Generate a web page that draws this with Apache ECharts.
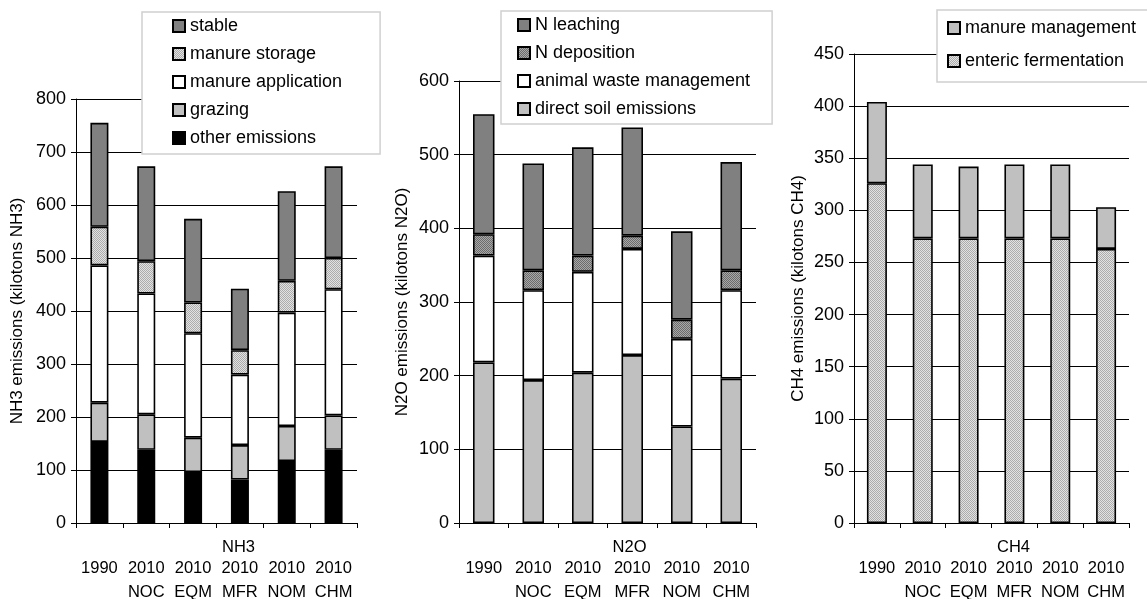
<!DOCTYPE html>
<html>
<head>
<meta charset="utf-8">
<script src="https://cdn.jsdelivr.net/npm/echarts@6/dist/echarts.min.js"></script>
<style>
  html, body { margin: 0; padding: 0; background: #fff; }
  #chart { width: 1147px; height: 599px; }
</style>
</head>
<body>
<div id="chart"></div>
<script>
// Scenario categories shared by all three panels
const categories = ['1990', '2010\nNOC', '2010\nEQM', '2010\nMFR', '2010\nNOM', '2010\nCHM'];

// NH3 emissions (kilotons NH3), per source
const nh3Other       = [153, 138, 96, 82, 117, 138];
const nh3Grazing     = [74, 67, 65, 65, 66, 65];
const nh3Application = [259, 228, 197, 133, 214, 238];
const nh3Storage     = [73, 61, 58, 46, 60, 59];
const nh3Stable      = [196, 179, 158, 116, 169, 173];

// N2O emissions (kilotons N2O), per source
const n2oDirectSoil  = [218, 194, 204, 228, 131, 196];
const n2oAnimalWaste = [145, 122, 137, 144, 119, 120];
const n2oDeposition  = [29, 27, 22, 18, 26, 27];
const n2oLeaching    = [163, 145, 147, 147, 120, 147];

// CH4 emissions (kilotons CH4), per source
const ch4Enteric = [326, 273, 273, 273, 273, 263];
const ch4Manure  = [78, 71, 69, 71, 71, 40];

// Axis titles
const panelNames = ['NH3', 'N2O', 'CH4'];
const yTitles = ['NH3 emissions (kilotons NH3)', 'N2O emissions (kilotons N2O)', 'CH4 emissions (kilotons CH4)'];
const yMax = [800, 600, 450];
const yStep = [100, 100, 50];

const FONT = "'Liberation Sans', Arial, sans-serif";

// Fine-grained hatch fills (2x2 checker)
function hatch(light, dark) {
  const c = document.createElement('canvas');
  c.width = 2; c.height = 2;
  const g = c.getContext('2d');
  g.fillStyle = light; g.fillRect(0, 0, 2, 2);
  g.fillStyle = dark;
  g.fillRect(0, 0, 1, 1);
  g.fillRect(1, 1, 1, 1);
  return { image: c, repeat: 'repeat' };
}
const lightHatch = hatch('#e2e2e2', '#acacac');
const darkHatch = hatch('#a8a8a8', '#6c6c6c');

const grids = [
  { left: 76, top: 99, width: 281, height: 424 },
  { left: 459, top: 81, width: 297, height: 442 },
  { left: 854, top: 54, width: 275, height: 469 }
].map(g => Object.assign(g, { containLabel: false, outerBoundsMode: 'none' }));
const barWidths = [18, 21.5, 20];
const nameGaps = [50, 48, 47];

const xAxes = grids.map((g, i) => ({
  type: 'category',
  gridIndex: i,
  data: categories,
  axisLine: { lineStyle: { color: '#000', width: 1 } },
  axisTick: { show: true, length: 5, lineStyle: { color: '#000' } },
  axisLabel: { fontFamily: FONT, fontSize: 16.5, color: '#000', lineHeight: 24, margin: 33, interval: 0 }
}));

const yAxes = grids.map((g, i) => ({
  type: 'value',
  gridIndex: i,
  min: 0,
  max: yMax[i],
  interval: yStep[i],
  name: yTitles[i],
  nameLocation: 'middle',
  nameRotate: 90,
  nameGap: nameGaps[i],
  nameTextStyle: { fontFamily: FONT, fontSize: 17, color: '#000' },
  axisLine: { show: true, lineStyle: { color: '#000', width: 1 } },
  axisTick: { show: true, length: 5, lineStyle: { color: '#000' } },
  axisLabel: { fontFamily: FONT, fontSize: 18, color: '#000', margin: 10 },
  splitLine: { show: true, lineStyle: { color: '#000', width: 1 } }
}));

function bar(name, data, panel, color) {
  return {
    name: name,
    type: 'bar',
    stack: 'panel' + panel,
    xAxisIndex: panel,
    yAxisIndex: panel,
    data: data,
    barWidth: barWidths[panel],
    itemStyle: { color: color, borderColor: '#000', borderWidth: 1.6 },
    emphasis: { disabled: true }
  };
}

const series = [
  bar('other emissions', nh3Other, 0, '#000000'),
  bar('grazing', nh3Grazing, 0, '#c0c0c0'),
  bar('manure application', nh3Application, 0, '#ffffff'),
  bar('manure storage', nh3Storage, 0, lightHatch),
  bar('stable', nh3Stable, 0, '#808080'),

  bar('direct soil emissions', n2oDirectSoil, 1, '#c0c0c0'),
  bar('animal waste management', n2oAnimalWaste, 1, '#ffffff'),
  bar('N deposition', n2oDeposition, 1, darkHatch),
  bar('N leaching', n2oLeaching, 1, '#808080'),

  bar('enteric fermentation', ch4Enteric, 2, lightHatch),
  bar('manure management', ch4Manure, 2, '#c0c0c0')
];

function legend(data, left, top, padding, gap) {
  return {
    orient: 'vertical',
    left: left,
    top: top,
    data: data,
    padding: padding,
    itemGap: gap,
    itemWidth: 12,
    itemHeight: 12,
    itemTextGap: 4,
    icon: 'rect',
    backgroundColor: '#ffffff',
    borderColor: '#d0d0d0',
    borderWidth: 1.5,
    selectedMode: false,
    textStyle: { fontFamily: FONT, fontSize: 18, color: '#000', lineHeight: 18 }
  };
}

// Group names written between the axis line and the scenario labels
const groupLabels = grids.map((g, i) => ({
  type: 'text',
  x: g.left + g.width / 2 + 22,
  y: g.top + g.height + 24,
  style: { text: panelNames[i], font: '16.5px ' + FONT, fill: '#000', align: 'center', verticalAlign: 'middle' }
}));

const chart = echarts.init(document.getElementById('chart'), null, { renderer: 'canvas' });
chart.setOption({
  animation: false,
  backgroundColor: '#ffffff',
  grid: grids,
  xAxis: xAxes,
  yAxis: yAxes,
  legend: [
    legend(['stable', 'manure storage', 'manure application', 'grazing', 'other emissions'], 142, 12, [5, 38, 7, 30], 10),
    legend(['N leaching', 'N deposition', 'animal waste management', 'direct soil emissions'], 501, 11, [5, 22, 6, 16], 10),
    legend(['manure management', 'enteric fermentation'], 937, 10, [9, 30, 12, 10], 15)
  ],
  graphic: groupLabels,
  series: series
});
</script>
</body>
</html>
